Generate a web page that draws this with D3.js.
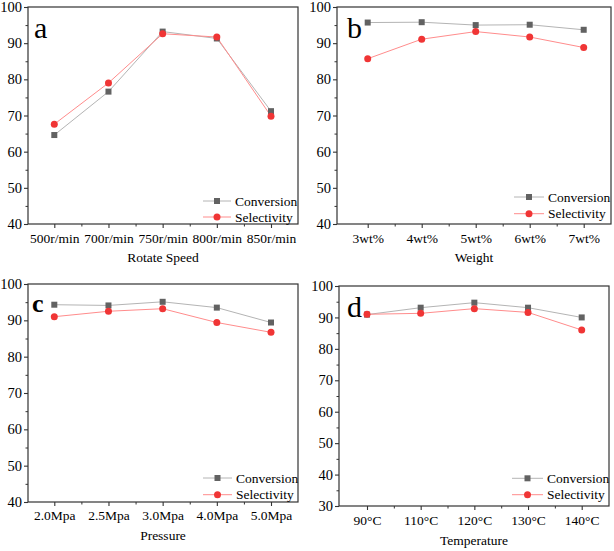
<!DOCTYPE html>
<html><head><meta charset="utf-8">
<script src="https://cdn.jsdelivr.net/npm/d3@7"></script>
<style>
body{margin:0;background:#fff;}
svg{display:block;font-family:'Liberation Serif','Times New Roman',serif;}
</style></head>
<body>
<svg id="c" width="614" height="551"></svg>
<script>
// ---- data ----
const catsA = ["500r/min","700r/min","750r/min","800r/min","850r/min"];
const convA = [64.6, 76.6, 93.2, 91.3, 71.2];
const selA  = [67.6, 79.0, 92.6, 91.7, 69.8];

const catsB = ["3wt%","4wt%","5wt%","6wt%","7wt%"];
const convB = [95.7, 95.8, 95.0, 95.1, 93.7];
const selB  = [85.7, 91.1, 93.2, 91.7, 88.8];

const catsC = ["2.0Mpa","2.5Mpa","3.0Mpa","4.0Mpa","5.0Mpa"];
const convC = [94.3, 94.1, 95.1, 93.5, 89.4];
const selC  = [91.0, 92.5, 93.2, 89.4, 86.7];

const catsD = ["90°C","110°C","120°C","130°C","140°C"];
const convD = [90.9, 93.1, 94.7, 93.1, 90.0];
const selD  = [91.0, 91.3, 92.8, 91.6, 86.0];

const titles = ["Rotate Speed","Weight","Pressure","Temperature"];
const letters = ["a","b","c","d"];
const seriesNames = ["Conversion","Selectivity"];

// ---- layout ----
const panels = [
  {cats:catsA, conv:convA, sel:selA, title:titles[0], letter:letters[0], bold:false,
   L:28, R:298, T:7, B:224, cx0:54.3, cx1:271, ymin:40, lx:203, lx1:231, ly:[201,217],
   tickBase:243, titleBase:262, letX:35, letY:38},
  {cats:catsB, conv:convB, sel:selB, title:titles[1], letter:letters[1], bold:false,
   L:337, R:611, T:7, B:224, cx0:367.7, cx1:583.7, ymin:40, lx:514, lx1:544, ly:[197,213.7],
   tickBase:243, titleBase:262, letX:348, letY:38},
  {cats:catsC, conv:convC, sel:selC, title:titles[2], letter:letters[2], bold:true,
   L:28, R:298, T:284, B:502, cx0:54.3, cx1:271, ymin:40, lx:203, lx1:232, ly:[478,494.7],
   tickBase:520, titleBase:540, letX:33, letY:312},
  {cats:catsD, conv:convD, sel:selD, title:titles[3], letter:letters[3], bold:false,
   L:339, R:609, T:286, B:506, cx0:367, cx1:581.7, ymin:30, lx:512, lx1:543, ly:[478.3,494.7],
   tickBase:525, titleBase:545, letX:348, letY:317}
];

const svg = d3.select("#c");
const axisCol = "#333";
const txtCol = "#000";
const convMarker = "#626262", convLine = "#b4b4b4";
const selMarker = "#f03535", selLine = "#ff8c8c";

panels.forEach(p => {
  const g = svg.append("g");
  const x = d3.scalePoint().domain(p.cats).range([p.cx0, p.cx1]);
  const y = d3.scaleLinear().domain([p.ymin, 100]).range([p.B, p.T]);

  // frame
  g.append("rect").attr("x", p.L).attr("y", p.T).attr("width", p.R - p.L).attr("height", p.B - p.T)
    .attr("fill", "none").attr("stroke", axisCol).attr("stroke-width", 1.2);

  // y axis major
  const yMaj = d3.range(p.ymin, 100.1, 10);
  const yMin = d3.range(p.ymin + 5, 100, 10);
  const ya = g.append("g").attr("transform", `translate(${p.L},0)`)
    .call(d3.axisLeft(y).tickValues(yMaj).tickSize(4).tickPadding(2).tickFormat(d3.format("d")));
  ya.select(".domain").remove();
  ya.selectAll("line").attr("stroke", axisCol).attr("stroke-width", 1.1);
  ya.selectAll("text").attr("font-size", 14.5).attr("fill", txtCol).attr("font-family", "'Liberation Serif',serif");
  const ym = g.append("g").attr("transform", `translate(${p.L},0)`)
    .call(d3.axisLeft(y).tickValues(yMin).tickSize(2.5).tickFormat(""));
  ym.select(".domain").remove();
  ym.selectAll("line").attr("stroke", axisCol).attr("stroke-width", 1);

  // x axis major
  const xa = g.append("g").attr("transform", `translate(0,${p.B})`)
    .call(d3.axisBottom(x).tickSize(4).tickPadding(0));
  xa.select(".domain").remove();
  xa.selectAll("line").attr("stroke", axisCol).attr("stroke-width", 1.1);
  xa.selectAll("text").attr("font-size", 13.5).attr("fill", txtCol)
    .attr("dy", null).attr("y", p.tickBase - p.B).attr("font-family", "'Liberation Serif',serif");
  // x minor ticks halfway between categories
  const step = x.step();
  const mids = p.cats.slice(1).map(c => x(c) - step / 2);
  const xMinor = d3.scaleLinear().domain([0, 1000]).range([0, 1000]);
  const xm = g.append("g").attr("transform", `translate(0,${p.B})`)
    .call(d3.axisBottom(xMinor).tickValues(mids).tickSize(2.5).tickFormat(""));
  xm.select(".domain").remove();
  xm.selectAll("line").attr("stroke", axisCol).attr("stroke-width", 1);

  // axis title
  g.append("text").attr("x", (p.L + p.R) / 2).attr("y", p.titleBase).attr("text-anchor", "middle")
    .attr("font-size", 13.5).attr("fill", txtCol).text(p.title);

  // panel letter
  g.append("text").attr("x", p.letX - 1).attr("y", p.letY)
    .attr("font-size", p.bold ? 26 : 30).attr("font-weight", p.bold ? "bold" : "normal")
    .attr("fill", "#000").text(p.letter);

  // series
  const line = d3.line().x((d, i) => x(p.cats[i])).y(d => y(d));
  g.append("path").attr("d", line(p.conv)).attr("fill", "none").attr("stroke", convLine).attr("stroke-width", 1);
  g.append("path").attr("d", line(p.sel)).attr("fill", "none").attr("stroke", selLine).attr("stroke-width", 1);
  g.selectAll(".sq").data(p.conv).join("rect")
    .attr("x", (d, i) => x(p.cats[i]) - 3).attr("y", d => y(d) - 3)
    .attr("width", 6).attr("height", 6).attr("fill", convMarker);
  g.selectAll(".ci").data(p.sel).join("circle")
    .attr("cx", (d, i) => x(p.cats[i])).attr("cy", d => y(d)).attr("r", 3.5).attr("fill", selMarker);

  // legend
  const lm = (p.lx + p.lx1) / 2;
  seriesNames.forEach((name, k) => {
    const ly = p.ly[k];
    g.append("line").attr("x1", p.lx).attr("x2", p.lx1).attr("y1", ly).attr("y2", ly)
      .attr("stroke", k ? selLine : convLine).attr("stroke-width", 1);
    if (k === 0) {
      g.append("rect").attr("x", lm - 3).attr("y", ly - 3).attr("width", 6).attr("height", 6).attr("fill", convMarker);
    } else {
      g.append("circle").attr("cx", lm).attr("cy", ly).attr("r", 3.5).attr("fill", selMarker);
    }
    g.append("text").attr("x", p.lx1 + 4).attr("y", ly + 4.5).attr("font-size", 13.5)
      .attr("fill", txtCol).text(name);
  });
});
</script>
</body></html>
